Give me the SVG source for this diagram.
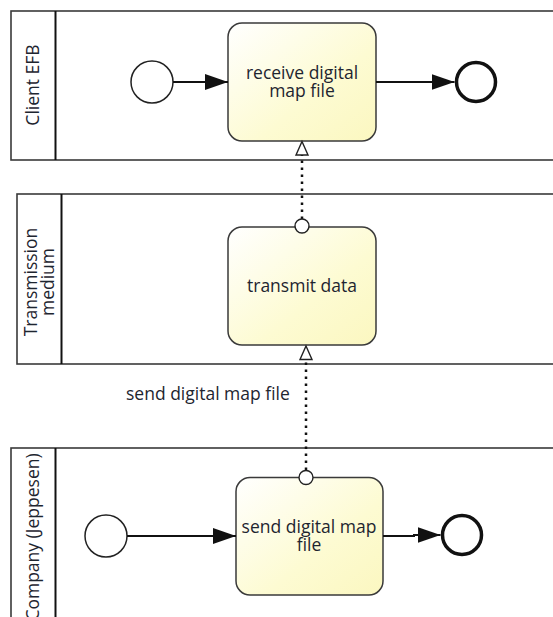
<svg xmlns="http://www.w3.org/2000/svg" width="553" height="617" viewBox="0 0 553 617">
  <defs>
    <linearGradient id="taskFill" x1="0" y1="0" x2="1" y2="1">
      <stop offset="0" stop-color="#ffffff"/>
      <stop offset="0.6" stop-color="#fdfbd2"/>
      <stop offset="1" stop-color="#fbf7c0"/>
    </linearGradient>
    <marker id="seqHead" markerWidth="24" markerHeight="18" refX="23" refY="8" orient="auto" markerUnits="userSpaceOnUse">
      <path d="M0,0 L23,8 L0,16 Z" fill="#111"/>
    </marker>
  </defs>
  <style>
    .pool { fill: #ffffff; stroke: #3a3a3a; stroke-width: 1.6; }
    .divider { stroke: #111; stroke-width: 2; }
    .task { fill: url(#taskFill); stroke: #3a3a3a; stroke-width: 1.5; }
    .start { fill: #ffffff; stroke: #222; stroke-width: 1.5; }
    .end { fill: #ffffff; stroke: #111; stroke-width: 3.5; }
    .seq { fill: none; stroke: #111; stroke-width: 2; }
    .msg { fill: none; stroke: #111; stroke-width: 2.5; stroke-dasharray: 2.5 4.5; }
    .msgHead { fill: #ffffff; stroke: #222; stroke-width: 1.4; }
    .msgTail { fill: #ffffff; stroke: #222; stroke-width: 1.4; }
    text { font-family: "Open Sans", "Noto Sans", "DejaVu Sans", sans-serif; font-size: 17.5px; fill: #1e2530; }
    .c { text-anchor: middle; }
  </style>

  <!-- Pool: Client EFB -->
  <g id="pool-client">
    <rect class="pool" x="11" y="11" width="560" height="149"/>
    <line class="divider" x1="55.5" y1="11" x2="55.5" y2="160"/>
    <text class="c" transform="translate(39,85) rotate(-90)">Client EFB</text>
  </g>

  <!-- Pool: Transmission medium -->
  <g id="pool-medium">
    <rect class="pool" x="17" y="194" width="560" height="170"/>
    <line class="divider" x1="61.5" y1="194" x2="61.5" y2="364"/>
    <text class="c" transform="translate(37,282) rotate(-90)">Transmission</text>
    <text class="c" transform="translate(54,282) rotate(-90)">medium</text>
  </g>

  <!-- Pool: Company (Jeppesen) -->
  <g id="pool-company">
    <rect class="pool" x="11" y="448" width="560" height="190"/>
    <line class="divider" x1="55.5" y1="448" x2="55.5" y2="640"/>
    <text class="c" transform="translate(39,537) rotate(-90)">Company (Jeppesen)</text>
  </g>

  <!-- Client EFB lane -->
  <g id="start-client">
    <circle class="start" cx="152" cy="82" r="21"/>
  </g>
  <g id="task-receive">
    <rect class="task" x="228" y="23" width="148" height="118" rx="14"/>
    <text class="c" x="302" y="79">receive digital</text>
    <text class="c" x="302" y="97">map file</text>
  </g>
  <g id="end-client">
    <circle class="end" cx="476" cy="82" r="19.5"/>
  </g>

  <!-- Transmission medium lane -->
  <g id="task-transmit">
    <rect class="task" x="228" y="227" width="148" height="118" rx="14"/>
    <text class="c" x="302" y="292">transmit data</text>
  </g>

  <!-- Company lane -->
  <g id="start-company">
    <circle class="start" cx="106" cy="536" r="21"/>
  </g>
  <g id="task-send">
    <rect class="task" x="236" y="477.5" width="147" height="117.5" rx="14"/>
    <text class="c" x="309" y="533">send digital map</text>
    <text class="c" x="309" y="551">file</text>
  </g>
  <g id="end-company">
    <circle class="end" cx="462" cy="535" r="19.5"/>
  </g>

  <!-- Connectors -->
  <g id="connectors">
    <!-- sequence flows -->
    <line class="seq" x1="173" y1="82" x2="228" y2="82" marker-end="url(#seqHead)"/>
    <line class="seq" x1="376" y1="82" x2="454.5" y2="82" marker-end="url(#seqHead)"/>
    <line class="seq" x1="127" y1="536" x2="236" y2="536" marker-end="url(#seqHead)"/>
    <polyline class="seq" points="383,536 414,536 414,535 440.5,535" marker-end="url(#seqHead)"/>

    <!-- message flow: transmit data -> receive digital map file -->
    <line class="msg" x1="302" y1="219" x2="302" y2="155"/>
    <circle class="msgTail" cx="302" cy="226" r="7"/>
    <path class="msgHead" d="M302,141.5 L308,155 L296,155 Z"/>

    <!-- message flow: send digital map file -> transmit data -->
    <line class="msg" x1="306" y1="470" x2="306" y2="360"/>
    <circle class="msgTail" cx="306" cy="477.5" r="7"/>
    <path class="msgHead" d="M306,346 L312,359.5 L300,359.5 Z"/>
    <text x="126" y="400">send digital map file</text>
  </g>
</svg>
